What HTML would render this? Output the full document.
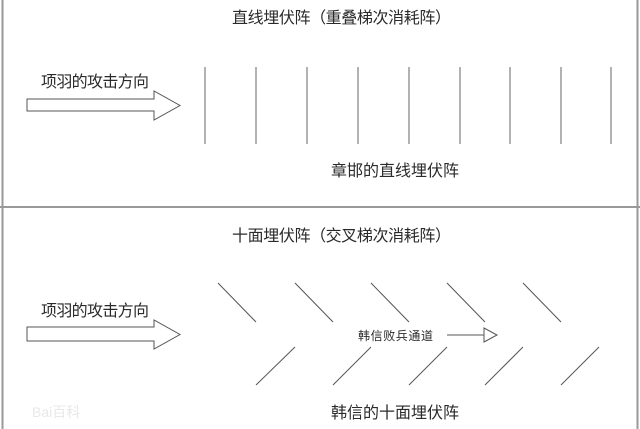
<!DOCTYPE html>
<html><head><meta charset="utf-8"><style>
html,body{margin:0;padding:0;background:#fff;}
svg{display:block;}
text{font-family:"Liberation Sans","Noto Sans CJK SC",sans-serif;fill:#2a2a2a;}
</style></head><body>
<svg width="640" height="429" viewBox="0 0 640 429" xmlns="http://www.w3.org/2000/svg">
<rect x="0" y="0" width="640" height="429" fill="#fff"/>
<line x1="2.5" y1="0" x2="2.5" y2="429" stroke="#999" stroke-width="2"/>
<line x1="637.5" y1="0" x2="637.5" y2="429" stroke="#999" stroke-width="2"/>
<line x1="0" y1="207" x2="640" y2="207" stroke="#999" stroke-width="2"/>

<!-- top -->
<text x="232" y="23" font-size="16" textLength="219" lengthAdjust="spacing">直线埋伏阵（重叠梯次消耗阵）</text>
<text x="41" y="87" font-size="16" textLength="108" lengthAdjust="spacing">项羽的攻击方向</text>
<polygon points="27,99 154,99 154,91 180,105.5 154,120 154,111 27,111" fill="#fff" stroke="#555" stroke-width="1"/>
<g stroke="#666" stroke-width="1">
<line x1="205" y1="67" x2="205" y2="144"/><line x1="256" y1="67" x2="256" y2="144"/>
<line x1="307" y1="67" x2="307" y2="144"/><line x1="358" y1="67" x2="358" y2="144"/>
<line x1="409" y1="67" x2="409" y2="144"/><line x1="460" y1="67" x2="460" y2="144"/>
<line x1="510" y1="67" x2="510" y2="144"/><line x1="561" y1="67" x2="561" y2="144"/>
<line x1="611" y1="67" x2="611" y2="144"/>
</g>
<text x="331" y="176" font-size="16" textLength="128" lengthAdjust="spacing">章邯的直线埋伏阵</text>

<!-- bottom -->
<text x="232" y="241" font-size="16" textLength="219" lengthAdjust="spacing">十面埋伏阵（交叉梯次消耗阵）</text>
<text x="41" y="316" font-size="16" textLength="108" lengthAdjust="spacing">项羽的攻击方向</text>
<polygon points="27,327 154,327 154,320 180,334.5 154,349 154,341 27,341" fill="#fff" stroke="#555" stroke-width="1"/>
<g stroke="#555" stroke-width="1">
<line x1="218" y1="283" x2="256" y2="322"/><line x1="295" y1="283" x2="333" y2="322"/>
<line x1="371" y1="283" x2="409" y2="322"/><line x1="447" y1="283" x2="485" y2="322"/>
<line x1="523" y1="283" x2="561" y2="322"/>
<line x1="256" y1="385" x2="295" y2="347"/><line x1="333" y1="385" x2="371" y2="347"/>
<line x1="409" y1="385" x2="447" y2="347"/><line x1="485" y1="385" x2="523" y2="347"/>
<line x1="561" y1="385" x2="599" y2="347"/>
<line x1="447" y1="335" x2="484" y2="335"/>
<polygon points="484,328 497,335 484,342" fill="#fff"/>
</g>
<text x="358" y="340" font-size="12" textLength="75" lengthAdjust="spacing">韩信败兵通道</text>
<text x="331" y="418" font-size="16" textLength="128" lengthAdjust="spacing">韩信的十面埋伏阵</text>
<text x="32" y="417" font-size="14" fill="#e6e6e6" style="fill:#e8e8e8">Bai百科</text>
</svg>
</body></html>
